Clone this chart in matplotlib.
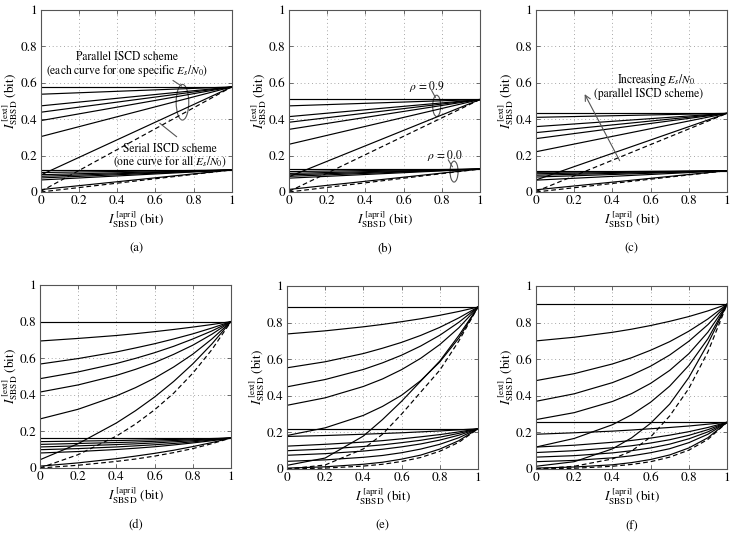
import matplotlib
matplotlib.use('Agg')
import matplotlib.pyplot as plt
from matplotlib.patches import Ellipse

plt.rcParams['font.family'] = 'STIXGeneral'
plt.rcParams['mathtext.fontset'] = 'stix'

ticks = [0, 0.2, 0.4, 0.6, 0.8, 1]
tick_labels = ['0', '0.2', '0.4', '0.6', '0.8', '1']
letters = ['a', 'b', 'c', 'd', 'e', 'f']

# panels (a)-(c): almost straight curves, value at x=0 and common end value at x=1
a_top = 0.577
a_upper = [0.577, 0.537, 0.473, 0.438, 0.392, 0.304, 0.093]
a_bot = 0.121
a_lower = [0.121, 0.107, 0.095, 0.086, 0.077, 0.066, 0.013]
a_dash = [0.003, 0.0]

b_top = 0.508
b_upper = [0.508, 0.473, 0.414, 0.383, 0.344, 0.262, 0.084]
b_bot = 0.126
b_lower = [0.126, 0.112, 0.102, 0.094, 0.086, 0.076, 0.014]
b_dash = [0.003, 0.0]

c_top = 0.432
c_upper = [0.432, 0.410, 0.359, 0.326, 0.293, 0.221, 0.066]
c_bot = 0.117
c_lower = [0.117, 0.108, 0.100, 0.092, 0.082, 0.065, 0.012]
c_dash = [0.003, 0.0]

# panels (d)-(f): curved, read at these x positions
x_pts = [0, 0.2, 0.4, 0.5, 0.6, 0.7, 0.8, 0.9, 1.0]

d_upper = [
    [0.800, 0.800, 0.800, 0.800, 0.800, 0.800, 0.800, 0.800, 0.800],
    [0.694, 0.708, 0.724, 0.734, 0.745, 0.757, 0.770, 0.784, 0.800],
    [0.568, 0.598, 0.634, 0.656, 0.679, 0.705, 0.733, 0.765, 0.800],
    [0.488, 0.525, 0.571, 0.599, 0.630, 0.665, 0.705, 0.749, 0.800],
    [0.415, 0.454, 0.506, 0.539, 0.576, 0.621, 0.671, 0.731, 0.800],
    [0.268, 0.321, 0.394, 0.439, 0.491, 0.552, 0.622, 0.705, 0.800],
    [0.045, 0.133, 0.246, 0.313, 0.388, 0.473, 0.569, 0.678, 0.800],
]
d_upper_dash = [0.0, 0.073, 0.174, 0.240, 0.318, 0.409, 0.518, 0.647, 0.800]
d_lower = [
    [0.164, 0.164, 0.164, 0.164, 0.164, 0.164, 0.164, 0.164, 0.164],
    [0.144, 0.147, 0.150, 0.152, 0.154, 0.156, 0.158, 0.161, 0.164],
    [0.129, 0.134, 0.139, 0.142, 0.146, 0.150, 0.154, 0.159, 0.164],
    [0.115, 0.121, 0.128, 0.132, 0.137, 0.143, 0.149, 0.156, 0.164],
    [0.100, 0.106, 0.115, 0.121, 0.127, 0.134, 0.143, 0.153, 0.164],
    [0.082, 0.090, 0.101, 0.108, 0.116, 0.126, 0.137, 0.149, 0.164],
    [0.010, 0.028, 0.051, 0.065, 0.080, 0.097, 0.117, 0.139, 0.164],
]
d_lower_dash = [0.0, 0.015, 0.036, 0.049, 0.065, 0.084, 0.106, 0.133, 0.164]

e_upper = [
    [0.885, 0.885, 0.885, 0.885, 0.885, 0.885, 0.885, 0.885, 0.885],
    [0.738, 0.755, 0.777, 0.790, 0.805, 0.821, 0.840, 0.861, 0.885],
    [0.553, 0.586, 0.631, 0.660, 0.692, 0.730, 0.774, 0.826, 0.885],
    [0.449, 0.489, 0.544, 0.580, 0.622, 0.672, 0.731, 0.802, 0.885],
    [0.348, 0.389, 0.451, 0.492, 0.543, 0.605, 0.680, 0.772, 0.885],
    [0.183, 0.225, 0.293, 0.342, 0.403, 0.483, 0.585, 0.716, 0.885],
    [0.020, 0.060, 0.180, 0.270, 0.370, 0.480, 0.590, 0.730, 0.885],
]
e_upper_dash = [0.0, 0.022, 0.110, 0.190, 0.300, 0.420, 0.540, 0.700, 0.885]
e_lower = [
    [0.220, 0.220, 0.220, 0.220, 0.220, 0.220, 0.220, 0.220, 0.220],
    [0.178, 0.183, 0.190, 0.194, 0.198, 0.203, 0.208, 0.214, 0.220],
    [0.125, 0.135, 0.147, 0.155, 0.165, 0.176, 0.188, 0.203, 0.220],
    [0.100, 0.109, 0.123, 0.132, 0.144, 0.157, 0.174, 0.195, 0.220],
    [0.075, 0.084, 0.098, 0.108, 0.121, 0.137, 0.158, 0.185, 0.220],
    [0.042, 0.050, 0.064, 0.074, 0.089, 0.109, 0.135, 0.171, 0.220],
    [0.005, 0.012, 0.026, 0.037, 0.054, 0.076, 0.109, 0.155, 0.220],
]
e_lower_dash = [0.0, 0.005, 0.016, 0.026, 0.041, 0.063, 0.097, 0.146, 0.220]

f_upper = [
    [0.900, 0.900, 0.900, 0.900, 0.900, 0.900, 0.900, 0.900, 0.900],
    [0.700, 0.720, 0.747, 0.764, 0.784, 0.807, 0.833, 0.864, 0.900],
    [0.483, 0.521, 0.574, 0.608, 0.649, 0.696, 0.753, 0.820, 0.900],
    [0.370, 0.411, 0.472, 0.513, 0.562, 0.623, 0.698, 0.789, 0.900],
    [0.270, 0.308, 0.369, 0.412, 0.468, 0.539, 0.630, 0.748, 0.900],
    [0.120, 0.167, 0.242, 0.296, 0.365, 0.453, 0.566, 0.712, 0.900],
    [0.015, 0.040, 0.110, 0.170, 0.250, 0.355, 0.500, 0.685, 0.900],
]
f_upper_dash = [0.0, 0.015, 0.055, 0.098, 0.175, 0.290, 0.440, 0.640, 0.900]
f_lower = [
    [0.255, 0.255, 0.255, 0.255, 0.255, 0.255, 0.255, 0.255, 0.255],
    [0.190, 0.198, 0.207, 0.213, 0.220, 0.227, 0.235, 0.245, 0.255],
    [0.120, 0.130, 0.146, 0.156, 0.169, 0.185, 0.204, 0.227, 0.255],
    [0.090, 0.100, 0.116, 0.127, 0.142, 0.160, 0.184, 0.215, 0.255],
    [0.065, 0.073, 0.088, 0.100, 0.115, 0.136, 0.165, 0.203, 0.255],
    [0.040, 0.047, 0.061, 0.072, 0.089, 0.111, 0.144, 0.190, 0.255],
    [0.005, 0.011, 0.023, 0.035, 0.052, 0.077, 0.115, 0.171, 0.255],
]
f_lower_dash = [0.0, 0.004, 0.015, 0.025, 0.040, 0.065, 0.103, 0.162, 0.255]

fig = plt.figure(figsize=(7.32, 5.37), dpi=100)
w, h = 0.261, 0.339
axes = [
    fig.add_axes([0.0556, 0.6425, w, h]),
    fig.add_axes([0.3948, 0.6425, w, h]),
    fig.add_axes([0.7322, 0.6425, w, h]),
    fig.add_axes([0.0546, 0.1285, w, 0.3408]),
    fig.add_axes([0.3920, 0.1266, w, 0.3408]),
    fig.add_axes([0.7322, 0.1266, w, 0.3408]),
]

lw = 0.85
dash_ls = (0, (4, 2.5))


def straight(ax, top, bot, upper, lower, dash):
    for s in upper:
        ax.plot([0, 1], [s, top], color='k', lw=lw)
    for s in lower:
        ax.plot([0, 1], [s, bot], color='k', lw=lw)
    ax.plot([0, 1], [dash[0], top], color='k', lw=lw, ls=dash_ls)
    ax.plot([0, 1], [dash[1], bot], color='k', lw=lw, ls=dash_ls)


def curved(ax, upper, udash, lower, ldash):
    for c in upper + lower:
        ax.plot(x_pts, c, color='k', lw=lw)
    ax.plot(x_pts, udash, color='k', lw=lw, ls=dash_ls)
    ax.plot(x_pts, ldash, color='k', lw=lw, ls=dash_ls)


straight(axes[0], a_top, a_bot, a_upper, a_lower, a_dash)
straight(axes[1], b_top, b_bot, b_upper, b_lower, b_dash)
straight(axes[2], c_top, c_bot, c_upper, c_lower, c_dash)
curved(axes[3], d_upper, d_upper_dash, d_lower, d_lower_dash)
curved(axes[4], e_upper, e_upper_dash, e_lower, e_lower_dash)
curved(axes[5], f_upper, f_upper_dash, f_lower, f_lower_dash)

for ax, letter in zip(axes, letters):
    ax.set_xlim(0, 1)
    ax.set_ylim(0, 1)
    ax.set_xticks(ticks)
    ax.set_xticklabels(tick_labels)
    ax.set_yticks(ticks)
    ax.set_yticklabels(tick_labels)
    ax.grid(True, color='#8a8a8a', lw=0.6, ls=(0, (1, 3.5)))
    ax.tick_params(direction='in', top=True, right=True, labelsize=9.5,
                   length=3, width=0.6, color='#555', pad=2.5)
    for sp in ax.spines.values():
        sp.set_color('#555')
        sp.set_linewidth(0.8)
    ax.set_xlabel(r'$\mathit{I}^{\,\mathrm{[apri]}}_{\mathrm{SBSD}}$ (bit)', fontsize=9.5, labelpad=2)
    ax.set_ylabel(r'$\mathit{I}^{\,\mathrm{[ext]}}_{\mathrm{SBSD}}$ (bit)', fontsize=9.5, labelpad=0)
    ax.text(0.5, -0.31, '(%s)' % letter, transform=ax.transAxes,
            ha='center', va='center', fontsize=9)

gc = '#555'
# annotations (a)
ax = axes[0]
ax.text(0.45, 0.743, 'Parallel ISCD scheme', ha='center', va='center', fontsize=8.3)
ax.text(0.45, 0.667, r'(each curve for one specific $E_s/N_0$)', ha='center', va='center', fontsize=8.3)
ax.add_patch(Ellipse((0.742, 0.493), 0.066, 0.196, fill=False, ec=gc, lw=0.8))
ax.plot([0.693, 0.737], [0.612, 0.582], color=gc, lw=0.8)
ax.text(0.674, 0.236, 'Serial ISCD scheme', ha='center', va='center', fontsize=8.3)
ax.text(0.674, 0.167, r'(one curve for all $E_s/N_0$)', ha='center', va='center', fontsize=8.3)
ax.plot([0.624, 0.711], [0.377, 0.304], color=gc, lw=0.8)

# annotations (b)
ax = axes[1]
ax.text(0.72, 0.582, r'$\rho$ = 0.9', ha='center', va='center', fontsize=8.3)
ax.add_patch(Ellipse((0.773, 0.473), 0.042, 0.117, fill=False, ec=gc, lw=0.8))
ax.plot([0.747, 0.766], [0.557, 0.52], color=gc, lw=0.8)
ax.text(0.818, 0.2, r'$\rho$ = 0.0', ha='center', va='center', fontsize=8.3)
ax.add_patch(Ellipse((0.864, 0.112), 0.042, 0.115, fill=False, ec=gc, lw=0.8))
ax.plot([0.834, 0.855], [0.176, 0.139], color=gc, lw=0.8)

# annotations (c)
ax = axes[2]
ax.text(0.627, 0.615, r'Increasing $E_s/N_0$', ha='center', va='center', fontsize=8.3)
ax.text(0.588, 0.537, '(parallel ISCD scheme)', ha='center', va='center', fontsize=8.3)
ax.annotate('', xy=(0.248, 0.551), xytext=(0.445, 0.158),
            arrowprops=dict(arrowstyle='->', color=gc, lw=0.8))

fig.savefig('out.png', dpi=100)
